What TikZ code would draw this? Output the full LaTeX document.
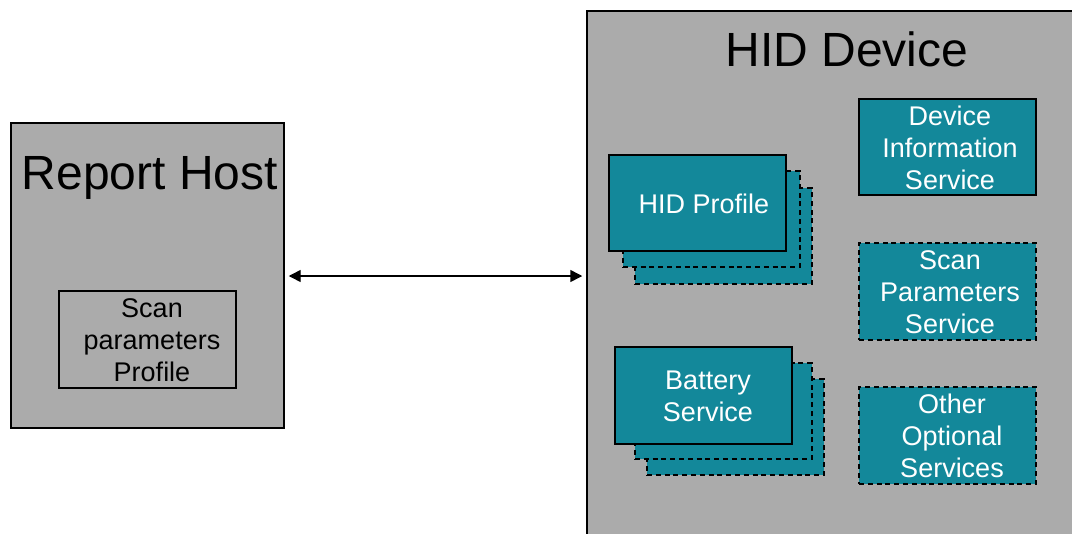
\documentclass[tikz,border=0pt]{standalone}
\usepackage{fontspec}
\setmainfont{Liberation Sans}
\usetikzlibrary{fit,arrows.meta}
\definecolor{panelgray}{RGB}{171,171,171}
\definecolor{teal}{RGB}{19,136,154}
\tikzset{
  panel/.style={draw=black, fill=panelgray, line width=1.1pt, inner sep=0pt},
  plainbox/.style={draw=black, line width=1.3pt, inner sep=0pt, align=center,
    font=\fontsize{20.25pt}{24pt}\selectfont},
  tealbox/.style={draw=black, fill=teal, line width=1.6pt, inner sep=0pt, align=center,
    text=white, font=\fontsize{20.25pt}{24pt}\selectfont},
  dashbox/.style={tealbox, line width=2pt, dash pattern=on 3.8pt off 2.8pt},
  bigtitle/.style={font=\fontsize{36pt}{40pt}\selectfont, inner sep=0pt},
  link/.style={line width=1.1pt, {Triangle[length=9pt,width=9pt]}-{Triangle[length=9pt,width=9pt]}}
}
\begin{document}
\begin{tikzpicture}[x=0.75pt, y=-0.75pt]
\clip (0,0) rectangle (1072,533);
\fill[white] (0,0) rectangle (1072,533);
% Report Host
\node[panel, fit={(11,123) (284,428)}] (rh) {};
\node[bigtitle] (rhtitle) at (150,178) {Report Host};
\node[plainbox, fit={(59,291) (236,388)}] (spp) {};
\node[font=\fontsize{20.25pt}{24pt}\selectfont, align=center, inner sep=0pt] (spptext) at (152,340) {Scan\\parameters\\Profile};
% HID Device
\node[panel, fit={(587,11) (1090,560)}] (dev) {};
\node[bigtitle] (devtitle) at (847,49) {HID Device};
% HID Profile stack
\node[dashbox, fit={(635,188) (812,284)}] (hp3) {};
\node[dashbox, fit={(623,171) (800,267)}] (hp2) {};
\node[tealbox, fit={(609,155) (786,251)}] (hp) {};
\node[text=white, font=\fontsize{20.25pt}{24pt}\selectfont, inner sep=0pt] (hptext) at (704,204) {HID Profile};
% Battery stack
\node[dashbox, fit={(647,379) (824,475)}] (bs3) {};
\node[dashbox, fit={(635,363) (812,459)}] (bs2) {};
\node[tealbox, fit={(615,347) (792,444)}] (bs) {};
\node[text=white, font=\fontsize{20.25pt}{24pt}\selectfont, align=center, inner sep=0pt] (bstext) at (708,396) {Battery\\Service};
% right column
\node[tealbox, fit={(859,99) (1036,195)}] (dis) {};
\node[text=white, font=\fontsize{20.25pt}{24pt}\selectfont, align=center, inner sep=0pt] (distext) at (950,148) {Device\\Information\\Service};
\node[dashbox, fit={(859,243) (1036,340)}] (sps) {};
\node[text=white, font=\fontsize{20.25pt}{24pt}\selectfont, align=center, inner sep=0pt] (spstext) at (950,292) {Scan\\Parameters\\Service};
\node[dashbox, fit={(859,387) (1036,484)}] (oos) {};
\node[text=white, font=\fontsize{20.25pt}{24pt}\selectfont, align=center, inner sep=0pt] (oostext) at (952,436) {Other\\Optional\\Services};
% connector
\coordinate (ay) at (0,276);
\draw[link, shorten <=3pt, shorten >=3pt] (rh.east |- ay) -- (dev.west |- ay);
\end{tikzpicture}
\end{document}
